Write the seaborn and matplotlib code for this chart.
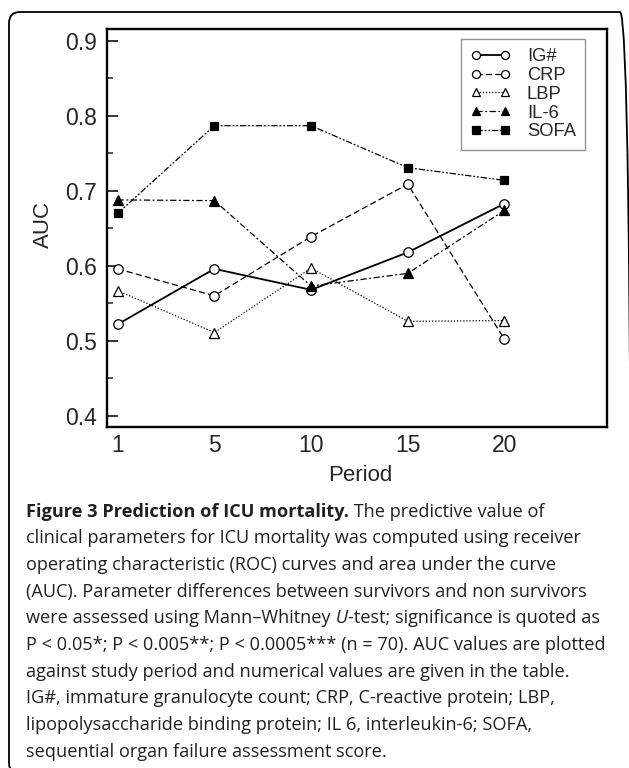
import numpy as np
import matplotlib
matplotlib.use("Agg")
import matplotlib.pyplot as plt
import seaborn as sns
from matplotlib.patches import FancyBboxPatch
from matplotlib.transforms import IdentityTransform

# values (AUC per study period)
periods = ["1", "5", "10", "15", "20"]
series_names = ["IG#", "CRP", "LBP", "IL-6", "SOFA"]
ig_auc = [0.522, 0.596, 0.568, 0.618, 0.683]
crp_auc = [0.596, 0.560, 0.639, 0.709, 0.502]
lbp_auc = [0.567, 0.511, 0.597, 0.526, 0.527]
il6_auc = [0.688, 0.687, 0.573, 0.590, 0.674]
sofa_auc = [0.670, 0.787, 0.787, 0.731, 0.714]
y_ticks = [0.4, 0.5, 0.6, 0.7, 0.8, 0.9]
y_minor = [0.45, 0.55, 0.65, 0.75, 0.85]

# line / marker style per series
styles = {
    "IG#":  dict(marker="o", mfc="white", ms=6.8, ls="-", lw=1.3),
    "CRP":  dict(marker="o", mfc="white", ms=6.8, ls=(0, (5, 2.5)), lw=0.9),
    "LBP":  dict(marker="^", mfc="white", ms=7.2, ls=(0, (1, 1.5)), lw=0.9),
    "IL-6": dict(marker="^", mfc="black", ms=7.2, ls=(0, (5, 2, 1.5, 2)), lw=0.9),
    "SOFA": dict(marker="s", mfc="black", ms=6, ls=(0, (5, 1.5, 1.5, 1.5, 1.5, 1.5)), lw=0.9),
}

sns.set_style("ticks")
plt.rcParams["font.family"] = ["Liberation Sans", "DejaVu Sans"]

W, H = 629, 768
fig = plt.figure(figsize=(W / 100, H / 100), dpi=100)
ax = fig.add_axes([107 / W, 1 - 427 / H, 500 / W, 398 / H])

x = np.arange(len(periods))
all_vals = [ig_auc, crp_auc, lbp_auc, il6_auc, sofa_auc]
for name, vals in zip(series_names, all_vals):
    st = styles[name]
    sns.lineplot(x=x, y=vals, ax=ax, color="black", label=name,
                 marker=st["marker"], markersize=st["ms"],
                 markerfacecolor=st["mfc"], markeredgecolor="black",
                 markeredgewidth=0.9, linestyle=st["ls"], linewidth=st["lw"],
                 errorbar=None)

ax.set_xlim(-0.11, 5.06)
ax.set_ylim(0.385, 0.916)
ax.set_xticks(x, periods)
ax.set_yticks(y_ticks, [f"{v:.1f}" for v in y_ticks])
ax.set_yticks(y_minor, minor=True)
ax.tick_params(axis="x", length=0, pad=5, labelsize=16.5)
ax.tick_params(axis="y", which="major", direction="in", length=8, width=1.3,
               pad=7, labelsize=16.5)
ax.tick_params(axis="y", which="minor", direction="in", length=4, width=1.1)
for sp in ax.spines.values():
    sp.set_linewidth(1.7)
    sp.set_color("black")

ax.set_xlabel("Period", fontsize=16, va="center")
ax.xaxis.set_label_coords(0.506, -0.123)
ax.set_ylabel("AUC", fontsize=16, va="center")
ax.yaxis.set_label_coords(-0.128, 0.51)

leg = ax.legend(loc="upper left", bbox_to_anchor=(461 / W, 1 - 39 / H),
                bbox_transform=fig.transFigure, borderaxespad=0,
                numpoints=2, handlelength=2.2, handletextpad=0.9,
                labelspacing=0.1, borderpad=0.5, fontsize=13.2,
                frameon=True, fancybox=False, markerscale=0.85)
leg.get_frame().set_edgecolor("#7a7a7a")
leg.get_frame().set_linewidth(1.0)

# rounded frame round the whole figure
frame = FancyBboxPatch((9, -6), 622, H - 12 + 6,
                       boxstyle="round,pad=0,rounding_size=11",
                       transform=IdentityTransform(), fill=False,
                       edgecolor="black", linewidth=1.3)
fig.patches.append(frame)

# caption, drawn piece by piece so bold / italic runs sit inline
cap_color = "#231f20"
cap_font = "Open Sans"
cap_size = 13.1
caption_lines = [
    [("Figure 3 Prediction of ICU mortality.", "bold", "normal"),
     (" The predictive value of", "normal", "normal")],
    [("clinical parameters for ICU mortality was computed using receiver", "normal", "normal")],
    [("operating characteristic (ROC) curves and area under the curve", "normal", "normal")],
    [("(AUC). Parameter differences between survivors and non survivors", "normal", "normal")],
    [("were assessed using Mann\u2013Whitney", "normal", "normal"),
     (" U", "normal", "italic"),
     ("-test; significance is quoted as", "normal", "normal")],
    [("P < 0.05*; P < 0.005**; P < 0.0005*** (n = 70). AUC values are plotted", "normal", "normal")],
    [("against study period and numerical values are given in the table.", "normal", "normal")],
    [("IG#, immature granulocyte count; CRP, C-reactive protein; LBP,", "normal", "normal")],
    [("lipopolysaccharide binding protein; IL 6, interleukin-6; SOFA,", "normal", "normal")],
    [("sequential organ failure assessment score.", "normal", "normal")],
]

renderer = fig.canvas.get_renderer()
for i, pieces in enumerate(caption_lines):
    y_px = 516.7 + 26.67 * i
    x_px = 26
    for txt, weight, style in pieces:
        t = fig.text(x_px / W, 1 - y_px / H, txt, fontsize=cap_size,
                     family=cap_font, weight=weight, style=style,
                     color=cap_color, va="baseline", ha="left")
        x_px = t.get_window_extent(renderer).x1

fig.savefig("out.png", dpi=100)
